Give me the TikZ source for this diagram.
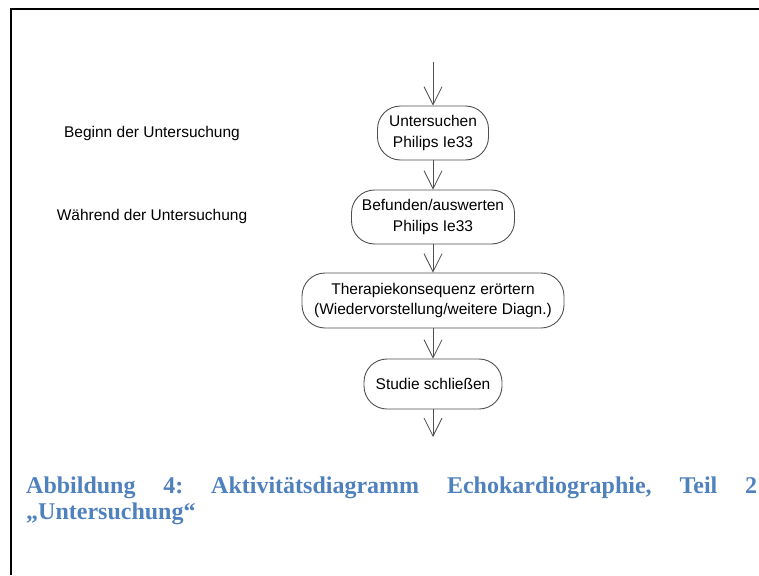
\documentclass[tikz,border=0pt]{standalone}
\usepackage{fontspec}
\setmainfont{Liberation Sans}
\newfontfamily\capfont{Liberation Serif}
\usetikzlibrary{arrows.meta}
\definecolor{capblue}{HTML}{4F81BD}
\definecolor{edgegray}{HTML}{505050}
\begin{document}
\begin{tikzpicture}[x=1pt,y=-1pt,
  activity/.style={draw=edgegray, line width=0.9pt, rounded corners=23pt,
    inner sep=0pt, align=center, minimum height=54pt,
    font=\fontsize{15.5}{20.5}\selectfont},
  flow/.style={draw=edgegray, line width=0.8pt,
    -{Straight Barb[length=18pt,width=18pt,line width=0.8pt]}},
  phase/.style={font=\fontsize{15.5}{20}\selectfont, inner sep=0pt}]
  \useasboundingbox (0,0) rectangle (759,575);
  % frame
  \draw[line width=2pt] (11,575) -- (11,9) -- (759,9);

  % activities
  \node[activity, minimum width=111pt] (a1) at (433,133) {Untersuchen\\Philips Ie33};
  \node[activity, minimum width=163pt] (a2) at (433,217) {Befunden/auswerten\\Philips Ie33};
  \node[activity, minimum width=262pt, minimum height=55pt] (a3) at (433,300.5)
    {Therapiekonsequenz erörtern\\(Wiedervorstellung/weitere Diagn.)};
  \node[activity, minimum width=138pt, minimum height=50pt] (a4) at (433,384) {Studie schließen};

  \coordinate (start) at (433,62);
  \coordinate (end) at (433,437);

  % control flow
  \draw[flow] (start) -- (a1.north);
  \draw[flow] (a1.south) -- (a2.north);
  \draw[flow] (a2.south) -- (a3.north);
  \draw[flow] (a3.south) -- (a4.north);
  \draw[flow] (a4.south) -- (end);

  % phase labels
  \node[phase] (p1) at (152,133) {Beginn der Untersuchung};
  \node[phase] (p2) at (152,216) {Während der Untersuchung};

  % caption
  \node[anchor=north west, inner sep=0pt, text=capblue, align=left,
        font=\capfont\bfseries\fontsize{24}{26}\selectfont] (cap) at (26,477)
    {\makebox[731pt][s]{Abbildung\hfill 4:\hfill Aktivitätsdiagramm\hfill Echokardiographie,\hfill Teil\hfill 2}\\„Untersuchung“};
\end{tikzpicture}
\end{document}
